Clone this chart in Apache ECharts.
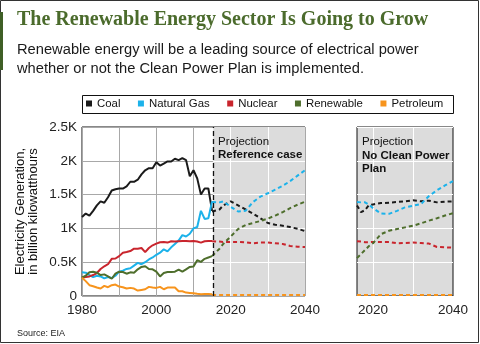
<!DOCTYPE html>
<html><head><meta charset="utf-8">
<script src="https://cdn.jsdelivr.net/npm/echarts@6/dist/echarts.min.js"></script>
<style>html,body{margin:0;padding:0;background:#fff}#c{width:480px;height:344px}</style>
</head><body><div id="c"></div>
<script>
// ---------- data ----------
const seriesNames = ['Coal', 'Natural Gas', 'Nuclear', 'Renewable', 'Petroleum'];
const histYears = [1980,1981,1982,1983,1984,1985,1986,1987,1988,1989,1990,1991,1992,1993,1994,1995,1996,1997,1998,1999,2000,2001,2002,2003,2004,2005,2006,2007,2008,2009,2010,2011,2012,2013,2014,2015];
const coalHist = [1170,1220,1190,1260,1340,1400,1380,1460,1560,1580,1590,1590,1620,1690,1690,1720,1800,1860,1890,1890,1980,1930,1960,1990,1990,2030,2010,2040,2010,1770,1860,1740,1500,1590,1590,1260];
const gasHist = [350,345,310,280,300,290,260,280,265,300,360,375,400,410,450,490,470,500,540,570,610,640,690,660,720,770,820,900,880,920,1000,1020,1260,1140,1150,1400];
const nuclearHist = [270,280,290,310,340,400,440,470,550,555,590,640,650,665,700,700,710,650,710,750,775,795,800,790,810,805,810,815,815,810,815,805,790,810,815,815];
const renewHist = [270,300,350,360,345,310,320,290,255,330,360,355,330,350,345,395,430,440,400,395,360,290,340,355,355,360,390,360,395,430,435,530,505,550,570,590];
const petroHist = [270,220,160,145,125,110,150,130,160,170,140,130,110,120,110,80,90,100,135,125,120,135,100,125,125,125,70,70,50,45,40,32,25,28,28,25];

// Projection: Reference case
const refYears = [2015,2017,2018,2020,2022,2024,2026,2028,2030,2032,2034,2036,2038,2040];
const coalRef = [1250,1280,1340,1400,1340,1280,1220,1150,1080,1055,1040,1020,995,960];
const gasRef = [1390,1385,1400,1320,1250,1260,1390,1470,1520,1575,1630,1700,1780,1860];
const nuclearRef = [810,805,800,800,800,795,780,790,790,780,770,740,730,725];
const renewRef = [590,700,770,880,990,1050,1080,1110,1145,1190,1240,1300,1350,1395];
const petroRef = [15,15,15,15,15,15,15,15,15,15,15,15,15,15];

// Projection: No Clean Power Plan
const ncpYears = [2016,2017,2018,2019,2020,2022,2024,2026,2028,2030,2032,2034,2036,2038,2040];
const coalNcp = [1340,1240,1270,1345,1355,1375,1380,1390,1400,1415,1400,1410,1385,1395,1400];
const gasNcp = [1390,1385,1385,1350,1300,1220,1215,1260,1310,1335,1360,1480,1565,1635,1700];
const nuclearNcp = [810,805,795,795,800,800,800,780,785,790,785,775,725,720,715];
const renewNcp = [560,620,680,740,780,915,965,990,1015,1040,1075,1115,1150,1190,1225];
const petroNcp = [15,15,15,15,15,15,15,15,15,15,15,15,15,15,15];

const projectionStart = 2015.3;
const yTicks = [0, 500, 1000, 1500, 2000, 2500];

// ---------- styling ----------
const colors = ['#1a1a1a', '#1cb2ea', '#c9252d', '#4e6e2c', '#f7941d'];
const FONT = 'Liberation Sans';
const pair = (xs, ys) => xs.map((x, i) => [x, ys[i]]);

const hist = [coalHist, gasHist, nuclearHist, renewHist, petroHist];
const ref = [coalRef, gasRef, nuclearRef, renewRef, petroRef];
const ncp = [coalNcp, gasNcp, nuclearNcp, renewNcp, petroNcp];

const series = [];
seriesNames.forEach((n, i) => {
  series.push({ name: n, type: 'line', xAxisIndex: 0, yAxisIndex: 0, data: pair(histYears, hist[i]),
    showSymbol: false, symbol: 'none', z: 3, lineStyle: { color: colors[i], width: 2 }, itemStyle: { color: colors[i] } });
});
seriesNames.forEach((n, i) => {
  series.push({ name: n, type: 'line', xAxisIndex: 0, yAxisIndex: 0, data: pair(refYears, ref[i]),
    showSymbol: false, symbol: 'none', z: 3, lineStyle: { color: colors[i], width: 2, type: [4, 3] }, itemStyle: { color: colors[i] } });
});
seriesNames.forEach((n, i) => {
  series.push({ name: n, type: 'line', xAxisIndex: 1, yAxisIndex: 1, data: pair(ncpYears, ncp[i]),
    showSymbol: false, symbol: 'none', z: 3, lineStyle: { color: colors[i], width: 2, type: [4, 3] }, itemStyle: { color: colors[i] } });
});

// grid decorations (projection shading & white gridlines) on helper series
const whiteH = yTicks.slice(1, 5).map(v => [{ coord: [projectionStart, v] }, { coord: [2040, v] }]);
series.push({ name: 'bgL', type: 'line', xAxisIndex: 0, yAxisIndex: 0, data: [], silent: true,
  markArea: { silent: true, z: 1, itemStyle: { color: '#dcdcdc' }, data: [[{ xAxis: projectionStart }, { xAxis: 2040 }]] },
  markLine: { silent: true, z: 2, symbol: 'none', label: { show: false },
    lineStyle: { color: '#ffffff', width: 1, type: 'solid' },
    data: [{ xAxis: 2020 }, { xAxis: 2030 }].concat(whiteH) } });
series.push({ name: 'projLine', type: 'line', xAxisIndex: 0, yAxisIndex: 0, data: [], silent: true,
  markLine: { silent: true, z: 4, symbol: 'none', label: { show: false },
    lineStyle: { color: '#111', width: 1.3, type: [5, 3] }, data: [{ xAxis: projectionStart }] } });
series.push({ name: 'bgR', type: 'line', xAxisIndex: 1, yAxisIndex: 1, data: [], silent: true,
  markLine: { silent: true, z: 2, symbol: 'none', label: { show: false },
    lineStyle: { color: '#ffffff', width: 1, type: 'solid' }, data: [{ xAxis: 2020 }, { xAxis: 2030 }] } });

const axisLabelStyle = { color: '#222', fontFamily: FONT, fontSize: 13.5 };

const option = {
  animation: false,
  backgroundColor: '#fff',
  title: [
    { text: 'The Renewable Energy Sector Is Going to Grow', left: 12, top: 5,
      textStyle: { fontFamily: 'Liberation Serif', fontWeight: 'bold', fontSize: 20, color: '#4b6b2c' } },
    { text: 'Renewable energy will be a leading source of electrical power\nwhether or not the Clean Power Plan is implemented.', left: 12, top: 35,
      textStyle: { fontFamily: FONT, fontWeight: 'normal', fontSize: 14.7, lineHeight: 19, color: '#1a1a1a' } },
    { text: 'Source: EIA', left: 12, top: 324,
      textStyle: { fontFamily: FONT, fontWeight: 'normal', fontSize: 9, color: '#222' } }
  ],
  legend: {
    data: seriesNames, left: 86, top: 98, icon: 'rect', itemWidth: 6, itemHeight: 6, itemGap: 17.5,
    textStyle: { fontFamily: FONT, fontSize: 11.4, color: '#111' }, selectedMode: false, padding: 0
  },
  graphic: [
    { type: 'rect', silent: true, z: 100, shape: { x: 0.5, y: 0.5, width: 478, height: 342 }, style: { fill: null, stroke: '#333', lineWidth: 1 } },
    { type: 'rect', silent: true, z: 100, shape: { x: 0, y: 12, width: 3, height: 58 }, style: { fill: '#3f5f26' } },
    { type: 'rect', silent: true, z: 100, shape: { x: 82.5, y: 95.5, width: 371, height: 18 }, style: { fill: null, stroke: '#111', lineWidth: 1 } },
    { type: 'text', silent: true, z: 100, left: 218, top: 136, style: { text: 'Projection', font: '11.5px ' + FONT, fill: '#111' } },
    { type: 'text', silent: true, z: 100, left: 218, top: 149, style: { text: 'Reference case', font: 'bold 11.5px ' + FONT, fill: '#111' } },
    { type: 'text', silent: true, z: 100, left: 362, top: 136, style: { text: 'Projection', font: '11.5px ' + FONT, fill: '#111' } },
    { type: 'text', silent: true, z: 100, left: 362, top: 149, style: { text: 'No Clean Power\nPlan', font: 'bold 11.5px ' + FONT, lineHeight: 13, fill: '#111' } }
  ],
  grid: [
    { left: 82, top: 127, width: 223, height: 169, show: true, backgroundColor: '#fff', borderColor: '#111', borderWidth: 1 },
    { left: 357, top: 127, width: 96, height: 169, show: true, backgroundColor: '#dcdcdc', borderColor: '#111', borderWidth: 1 }
  ],
  xAxis: [
    { gridIndex: 0, type: 'value', min: 1980, max: 2040, interval: 10,
      axisLine: { show: false }, axisTick: { show: false },
      splitLine: { show: true, lineStyle: { color: '#a8a8a8', width: 1 } },
      axisLabel: { ...axisLabelStyle, margin: 7, formatter: v => (v % 20 === 0 ? String(v) : '') } },
    { gridIndex: 1, type: 'value', min: 2016, max: 2040, interval: 4,
      axisLine: { show: false }, axisTick: { show: false }, splitLine: { show: false },
      axisLabel: { ...axisLabelStyle, margin: 7, formatter: v => (v === 2020 || v === 2040 ? String(v) : '') } }
  ],
  yAxis: [
    { gridIndex: 0, type: 'value', min: 0, max: 2500, interval: 500,
      axisLine: { show: false }, axisTick: { show: false },
      splitLine: { show: true, lineStyle: { color: '#a8a8a8', width: 1 } },
      axisLabel: { ...axisLabelStyle, margin: 5, formatter: v => (v === 0 ? '0' : (v / 1000) + 'K') },
      name: 'Electricity Generation,\nin billion kilowatthours', nameLocation: 'middle', nameGap: 42,
      nameTextStyle: { fontFamily: FONT, fontSize: 13, lineHeight: 13, color: '#111' } },
    { gridIndex: 1, type: 'value', min: 0, max: 2500, interval: 500,
      axisLine: { show: false }, axisTick: { show: false },
      splitLine: { show: true, lineStyle: { color: '#ffffff', width: 1 } },
      axisLabel: { show: false } }
  ],
  series
};
echarts.init(document.getElementById('c'), null, { renderer: 'canvas' }).setOption(option);
</script></body></html>
